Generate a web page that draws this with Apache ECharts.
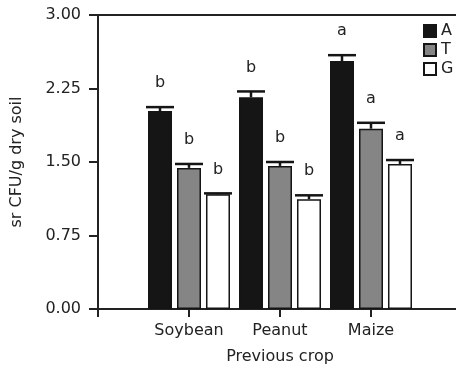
<!DOCTYPE html>
<html>
<head>
<meta charset="utf-8">
<script src="https://cdn.jsdelivr.net/npm/echarts@6/dist/echarts.min.js"></script>
<style>
  html, body { margin: 0; padding: 0; background: #fff; }
  #chart { width: 456px; height: 369px; }
</style>
</head>
<body>
<div id="chart"></div>
<script>
// 数据
const crops = ['Soybean', 'Peanut', 'Maize'];
const valuesA = [2.02, 2.16, 2.53];
const valuesT = [1.44, 1.46, 1.84];
const valuesG = [1.17, 1.12, 1.48];
const errA = [0.04, 0.06, 0.06];
const errT = [0.04, 0.04, 0.06];
const errG = [0.01, 0.04, 0.04];
const lettersA = ['b', 'b', 'a'];
const lettersT = ['b', 'b', 'a'];
const lettersG = ['b', 'b', 'a'];
const yTicks = [0, 0.75, 1.5, 2.25, 3];

const FONT = 'DejaVu Sans';
const BAR_W = 24;
const BAR_STEP = 29;

// 两端留空类目，使轴从 y 轴开始
const categories = [''].concat(crops, ['']);
const pad = (arr) => [null].concat(arr, [null]);

const groups = [
  { name: 'A', values: valuesA, err: errA, letters: lettersA, color: '#151515' },
  { name: 'T', values: valuesT, err: errT, letters: lettersT, color: '#858585' },
  { name: 'G', values: valuesG, err: errG, letters: lettersG, color: '#ffffff' },
];

const chart = echarts.init(document.getElementById('chart'));

const errorSeries = groups.map((g, gi) => ({
  type: 'custom',
  xAxisIndex: 0,
  yAxisIndex: 0,
  silent: true,
  z: 5,
  data: g.values.map((v, i) => [i + 1, v, g.err[i], g.letters[i]]),
  renderItem: (params, api) => {
    const x = api.coord([api.value(0), 0])[0] + (gi - 1) * BAR_STEP;
    const yTop = api.coord([api.value(0), api.value(1)])[1];
    const yCap = api.coord([api.value(0), api.value(1) + api.value(2)])[1];
    const line = { stroke: '#151515', lineWidth: 2.5 };
    return {
      type: 'group',
      children: [
        { type: 'line', shape: { x1: x, y1: yTop, x2: x, y2: yCap }, style: line },
        { type: 'line', shape: { x1: x - 14, y1: yCap, x2: x + 14, y2: yCap }, style: line },
        {
          type: 'text',
          style: {
            text: api.value(3),
            x: x,
            y: yCap - 16,
            align: 'center',
            verticalAlign: 'bottom',
            fill: '#222',
            font: '16px "' + FONT + '"',
          },
        },
      ],
    };
  },
}));

const options = {
  animation: false,
  textStyle: { fontFamily: FONT },
  grid: {
    left: 98,
    right: -6,
    top: 15,
    bottom: 60,
    containLabel: false,
    outerBoundsMode: 'none',
  },
  legend: {
    orient: 'vertical',
    left: 418,
    top: 18,
    itemWidth: 12,
    itemHeight: 12,
    itemGap: 3,
    icon: 'rect',
    textStyle: { fontSize: 16, color: '#222', fontFamily: FONT },
    data: groups.map((g) => g.name),
  },
  xAxis: [
    {
      type: 'category',
      data: categories,
      boundaryGap: false,
      name: 'Previous crop',
      nameLocation: 'middle',
      nameGap: 40,
      nameTextStyle: { fontSize: 16, color: '#222' },
      axisLine: { lineStyle: { color: '#222', width: 2 } },
      axisTick: { interval: 0, length: 8, lineStyle: { color: '#222', width: 2 } },
      axisLabel: { interval: 0, fontSize: 16, color: '#222', margin: 14 },
    },
    {
      type: 'category',
      position: 'top',
      data: categories,
      boundaryGap: false,
      axisLine: { show: true, onZero: false, lineStyle: { color: '#222', width: 2 } },
      axisTick: { show: false },
      axisLabel: { show: false },
    },
  ],
  yAxis: {
    type: 'value',
    min: 0,
    max: 3,
    interval: 0.75,
    name: 'sr CFU/g dry soil',
    nameLocation: 'middle',
    nameGap: 73,
    nameTextStyle: { fontSize: 16, color: '#222' },
    splitLine: { show: false },
    axisLine: { show: true, lineStyle: { color: '#222', width: 2 } },
    axisTick: { show: true, length: 9, lineStyle: { color: '#222', width: 2 } },
    axisLabel: {
      fontSize: 16,
      color: '#222',
      margin: 17,
      formatter: (v) => (yTicks.indexOf(v) >= 0 ? v.toFixed(2) : ''),
    },
  },
  series: [
    // 柱状图系列
    ...groups.map((g) => ({
      name: g.name,
      type: 'bar',
      barWidth: BAR_W,
      barGap: '20.8%',
      data: pad(g.values),
      itemStyle: { color: g.color, borderColor: '#151515', borderWidth: 1.5 },
    })),
    // 误差线和显著性字母
    ...errorSeries,
  ],
};

chart.setOption(options);
</script>
</body>
</html>
